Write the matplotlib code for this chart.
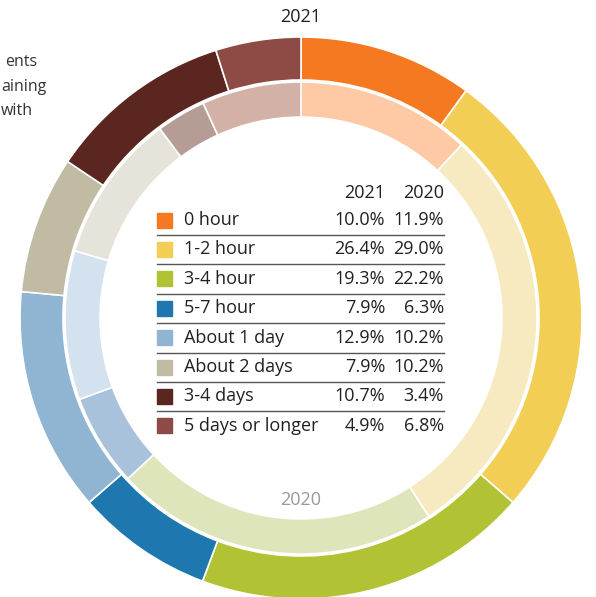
import matplotlib
matplotlib.use('Agg')
import matplotlib.pyplot as plt
from matplotlib.patches import Rectangle

plt.rcParams['font.family'] = ['Open Sans', 'DejaVu Sans']

# data
categories = ['0 hour', '1-2 hour', '3-4 hour', '5-7 hour', 'About 1 day',
              'About 2 days', '3-4 days', '5 days or longer']
share_2021 = [10.0, 26.4, 19.3, 7.9, 12.9, 7.9, 10.7, 4.9]
share_2020 = [11.9, 29.0, 22.2, 6.3, 10.2, 10.2, 3.4, 6.8]

colors_2021 = ['#F47920', '#F2CE55', '#B1C334', '#1E77AE', '#8FB5D2',
               '#C1BBA4', '#5B2620', '#8E4A44']
colors_2020 = ['#FDCAA5', '#F8EAC0', '#DFE5BA', '#A9C2DC', '#D3E2EE',
               '#E6E3DA', '#B59C94', '#D3B1A6']

W, H = 596, 597
fig = plt.figure(figsize=(W / 100, H / 100), dpi=100)


def fx(x):
    return x / W


def fy(y):
    return 1 - y / H


# donut rings, centre (301, 318) px, radius 281 px
ax = fig.add_axes([20 / W, (H - 599) / H, 562 / W, 562 / H])
ax.pie(share_2021, radius=1.0, startangle=90, counterclock=False, colors=colors_2021,
       wedgeprops=dict(width=0.153, edgecolor='white', linewidth=1.2))
ax.pie(share_2020, radius=0.84, startangle=90, counterclock=False, colors=colors_2020,
       wedgeprops=dict(width=0.125, edgecolor='white', linewidth=1.2))
ax.set_xlim(-1, 1)
ax.set_ylim(-1, 1)
ax.set_aspect('equal')
ax.axis('off')

txt = '#231F20'
fs = 13
fig.text(fx(301), fy(17), '2021', ha='center', va='center', fontsize=fs, color=txt)
fig.text(fx(301), fy(500), '2020', ha='center', va='center', fontsize=fs, color='#9A9A9A')

# side note at top left (only its tail is visible)
for s, xr, y in [('ents', 37, 62), ('aining', 47, 87), ('with', 33, 111)]:
    fig.text(fx(xr), fy(y), s, ha='right', va='center', fontsize=11.5, color='#333333')

# legend table
fig.text(fx(385), fy(193), '2021', ha='right', va='center', fontsize=fs, color=txt)
fig.text(fx(444), fy(193), '2020', ha='right', va='center', fontsize=fs, color=txt)
row_h = 29.4
for i, (cat, v21, v20, c) in enumerate(zip(categories, share_2021, share_2020, colors_2021)):
    yc = 220 + i * row_h
    fig.patches.append(Rectangle((fx(157), fy(yc + 7.5)), 15 / W, 15 / H,
                                 transform=fig.transFigure, color=c, figure=fig))
    fig.text(fx(184), fy(yc), cat, ha='left', va='center', fontsize=fs, color=txt)
    fig.text(fx(385), fy(yc), f'{v21:.1f}%', ha='right', va='center', fontsize=fs, color=txt)
    fig.text(fx(444), fy(yc), f'{v20:.1f}%', ha='right', va='center', fontsize=fs, color=txt)
    if i < len(categories) - 1:
        fig.add_artist(plt.Line2D([fx(157), fx(444)], [fy(yc + 15), fy(yc + 15)],
                                  transform=fig.transFigure, color='#555555', linewidth=1.0))

fig.savefig('out.png', dpi=100)
